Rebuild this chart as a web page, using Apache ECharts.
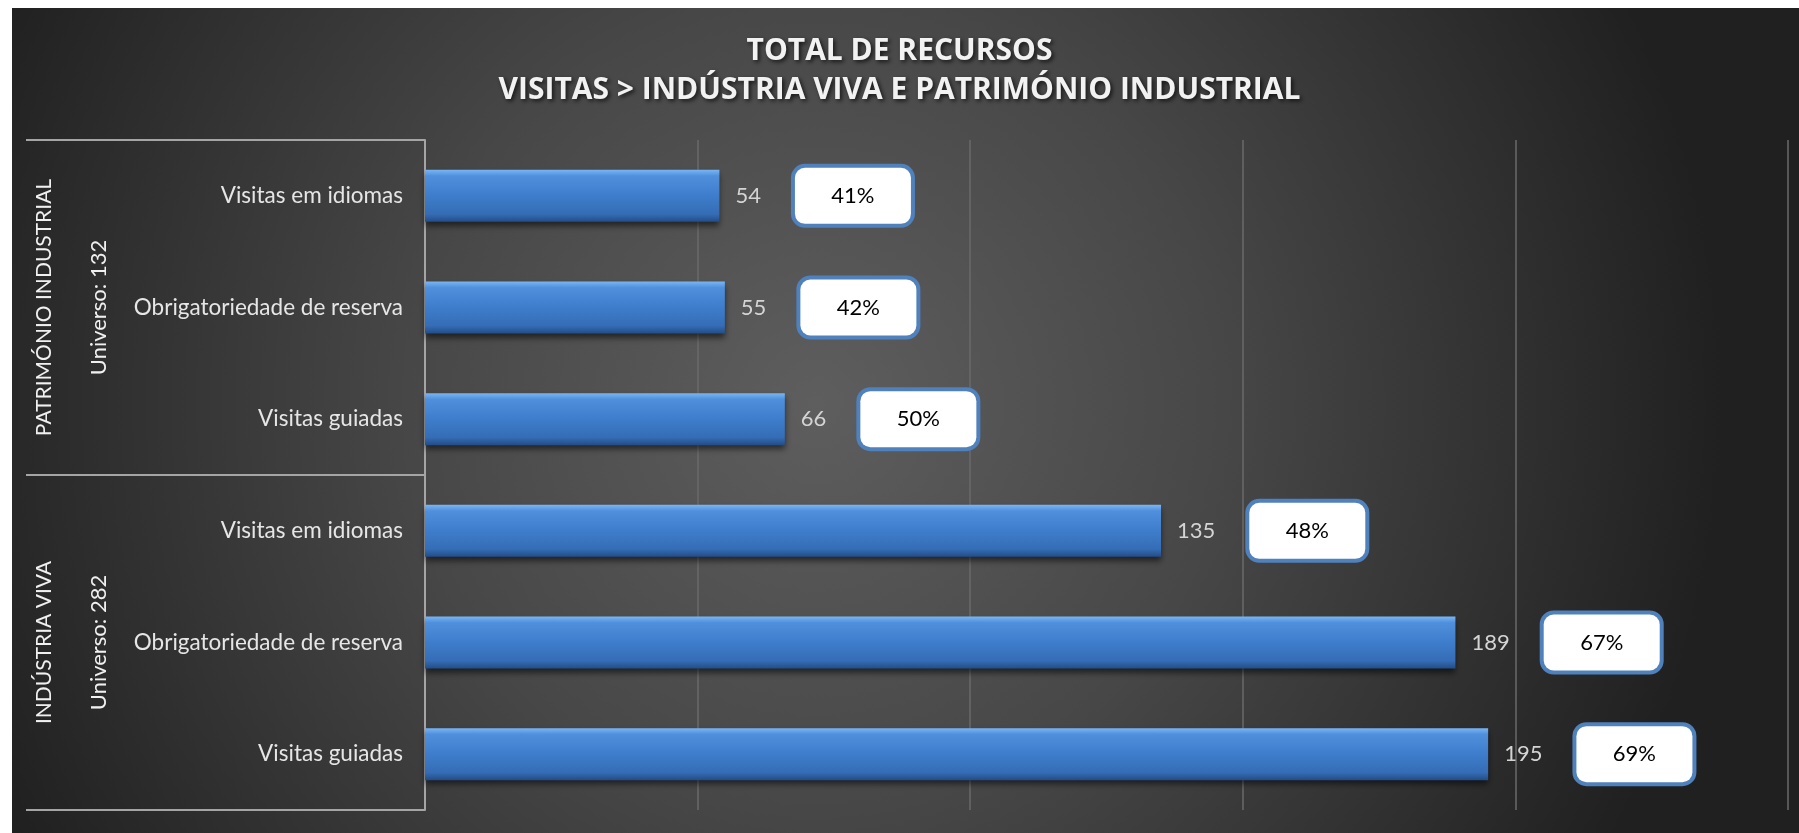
<!DOCTYPE html>
<html>
<head>
<meta charset="utf-8">
<script src="https://cdn.jsdelivr.net/npm/echarts@6/dist/echarts.min.js"></script>
<style>
  html, body { margin: 0; padding: 0; background: #fff; }
  #main { width: 1799px; height: 833px; }
</style>
</head>
<body>
<div id="main"></div>
<script>
// categorias (de cima para baixo)
const categories = ['Visitas em idiomas', 'Obrigatoriedade de reserva', 'Visitas guiadas',
                    'Visitas em idiomas', 'Obrigatoriedade de reserva', 'Visitas guiadas'];
const values = [54, 55, 66, 135, 189, 195];
const percents = ['41%', '42%', '50%', '48%', '67%', '69%'];
const groups = ['PATRIMÓNIO INDUSTRIAL', 'INDÚSTRIA VIVA'];
const universes = ['Universo: 132', 'Universo: 282'];
const titleLines = ['TOTAL DE RECURSOS', 'VISITAS > INDÚSTRIA VIVA E PATRIMÓNIO INDUSTRIAL'];

const FONT = 'Lato, "Open Sans", sans-serif';
const gridTop = 140, gridBottom = 810, frameLeft = 26, axisX = 425;
const bandH = (gridBottom - gridTop) / categories.length;

let myChart = echarts.init(document.getElementById('main'));

// fundo, moldura e textos do grupo
let graphics = [
    {
        type: 'rect', z: -10, silent: true,
        shape: { x: 12, y: 8, width: 1799 - 12, height: 833 - 8 },
        style: {
            fill: {
                type: 'radial', x: 0.45, y: 0.48, r: 1.1,
                colorStops: [
                    { offset: 0, color: '#5e5e5e' },
                    { offset: 0.45, color: '#474747' },
                    { offset: 1, color: '#202020' }
                ]
            }
        }
    }
];
[gridTop, gridTop + bandH * 3, gridBottom].forEach(function (y) {
    graphics.push({
        type: 'line', silent: true,
        shape: { x1: frameLeft, y1: y, x2: axisX, y2: y },
        style: { stroke: '#a5a5a5', lineWidth: 2 }
    });
});
groups.forEach(function (g, i) {
    let cy = gridTop + bandH * 3 * i + bandH * 1.5;
    graphics.push({
        type: 'text', x: 44, y: cy, rotation: Math.PI / 2,
        style: { text: g, fill: '#f0f0f0', font: '21px ' + FONT, align: 'center', verticalAlign: 'middle' }
    });
    graphics.push({
        type: 'text', x: 99, y: cy, rotation: Math.PI / 2,
        style: { text: universes[i], fill: '#f0f0f0', font: '22px ' + FONT, align: 'center', verticalAlign: 'middle' }
    });
});

let option = {
    backgroundColor: '#ffffff',
    title: {
        text: titleLines.join('\n'),
        left: 'center',
        top: 27,
        textStyle: {
            color: '#f2f2f2',
            fontFamily: '"Open Sans", sans-serif',
            fontWeight: 'bold',
            fontSize: 30,
            lineHeight: 39,
            textShadowColor: 'rgba(0,0,0,0.7)',
            textShadowBlur: 4,
            textShadowOffsetX: 2,
            textShadowOffsetY: 2
        }
    },
    graphic: graphics,
    grid: {
        left: axisX,
        right: 11,
        top: gridTop,
        bottom: 833 - gridBottom
    },
    xAxis: {
        type: 'value',
        min: 0,
        max: 250,
        interval: 50,
        axisLabel: { show: false },
        axisLine: { show: false },
        axisTick: { show: false },
        splitLine: { lineStyle: { color: '#6a6a6a', width: 1.5 } }
    },
    yAxis: {
        type: 'category',
        inverse: true,
        data: categories,
        axisLine: { show: true, lineStyle: { color: '#a5a5a5', width: 2 } },
        axisTick: { show: false },
        axisLabel: { color: '#e6e6e6', fontFamily: FONT, fontSize: 22.5, margin: 22 }
    },
    series: [
        {
            type: 'bar',
            data: values,
            barWidth: 52,
            itemStyle: {
                color: {
                    type: 'linear', x: 0, y: 0, x2: 0, y2: 1,
                    colorStops: [
                        { offset: 0, color: '#7ab6f5' },
                        { offset: 0.12, color: '#4f8fdc' },
                        { offset: 0.5, color: '#3e7dcb' },
                        { offset: 0.85, color: '#356db6' },
                        { offset: 1, color: '#234d86' }
                    ]
                },
                shadowColor: 'rgba(0,0,0,0.55)',
                shadowBlur: 6,
                shadowOffsetY: 4
            },
            label: {
                show: true,
                position: 'right',
                distance: 16,
                formatter: function (p) {
                    return '{v|' + p.value + '}{g|}{p|' + percents[p.dataIndex] + '}';
                },
                rich: {
                    v: { color: '#d4d4d4', fontFamily: FONT, fontSize: 22, verticalAlign: 'middle' },
                    g: { width: 34 },
                    p: {
                        color: '#000', fontFamily: FONT, fontSize: 22,
                        backgroundColor: '#ffffff',
                        borderColor: '#4f81bd', borderWidth: 4, borderRadius: 10,
                        width: 108, height: 56, align: 'center', verticalAlign: 'middle',
                        padding: [0, 4]
                    }
                }
            }
        }
    ]
};
myChart.setOption(option);
</script>
</body>
</html>
